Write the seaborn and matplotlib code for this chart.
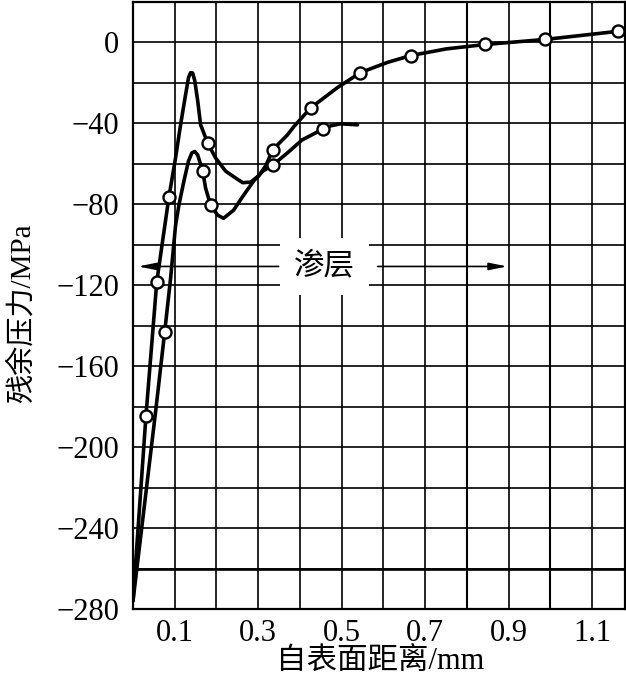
import matplotlib
matplotlib.use('Agg')
import matplotlib.pyplot as plt
import numpy as np
import pandas as pd
import seaborn as sns

# curve traces (depth in mm, stress in MPa)
curve_a_x = [0.0, 0.031, 0.057, 0.086, 0.102, 0.114, 0.126, 0.133, 0.138, 0.143, 0.148,
             0.155, 0.162, 0.179, 0.198, 0.222, 0.246, 0.263, 0.282, 0.301, 0.318, 0.335, 0.370,
             0.385, 0.426, 0.490, 0.545, 0.609, 0.665, 0.750, 0.844, 0.988, 1.162]
curve_a_y = [-276, -184.7, -118.2, -76.5, -57, -40.7, -25.8, -17.4, -14.9, -15.1, -18.9,
             -28.8, -40.7, -49.7, -57.1, -63.6, -67, -69.3, -69, -66, -61, -53, -45.7,
             -41.7, -32.3, -22.3, -14.9, -9.9, -6.5, -3.2, -1, 1.5, 5.5]

curve_b_x = [0.0, 0.055, 0.076, 0.090, 0.102, 0.110, 0.122, 0.133, 0.141, 0.148, 0.155, 0.167,
             0.174, 0.186, 0.203, 0.217, 0.241, 0.265, 0.289, 0.311, 0.335, 0.370, 0.405, 0.456,
             0.474, 0.497, 0.538]
curve_b_y = [-276, -181, -143, -116.7, -90.4, -80.4, -68.5, -58.6, -54.6, -53.9, -55.6, -63.6,
             -72, -80.4, -85.4, -86.9, -82.9, -75.5, -68.5, -63.6, -60.6, -54.6, -48.2, -42.7,
             -41.2, -40.2, -40.7]

# measured points (circles)
pts_a_x = [0.031, 0.057, 0.086, 0.179, 0.335, 0.426, 0.545, 0.665, 0.844, 0.988, 1.162]
pts_a_y = [-184.7, -118.2, -76.5, -49.7, -53, -32.3, -14.9, -6.5, -1, 1.5, 5.5]
pts_b_x = [0.076, 0.167, 0.186, 0.335, 0.456]
pts_b_y = [-143, -63.6, -80.4, -60.6, -42.7]

x_ticks = [0.1, 0.3, 0.5, 0.7, 0.9, 1.1]
x_grid = [0.1, 0.2, 0.3, 0.4, 0.5, 0.6, 0.7, 0.8, 0.9, 1.0, 1.1]
y_ticks = [0, -40, -80, -120, -160, -200, -240, -280]
y_grid = [0, -20, -40, -60, -80, -100, -120, -140, -160, -180, -200, -220, -240, -260]

layer_label = '渗层'
layer_y = -110.7
layer_left = [0.349, 0.012]
layer_right = [0.586, 0.897]
layer_text_x = 0.459

sns.set_theme(style='white')
plt.rcParams['font.family'] = ['Liberation Serif', 'Noto Sans CJK SC']
plt.rcParams['axes.unicode_minus'] = True

fig = plt.figure(figsize=(6.26, 6.77), dpi=100)
ax = fig.add_axes([133 / 626, 1 - 609 / 677, 492 / 626, 607 / 677])

df_a = pd.DataFrame({'x': curve_a_x, 'y': curve_a_y})
df_b = pd.DataFrame({'x': curve_b_x, 'y': curve_b_y})
line_kw = dict(sort=False, estimator=None, color='black', lw=2.6, ax=ax, zorder=3)
sns.lineplot(data=df_a, x='x', y='y', **line_kw)
sns.lineplot(data=df_b, x='x', y='y', **line_kw)
dot_kw = dict(marker='o', s=75, facecolor='white', edgecolor='black', linewidth=1.7, ax=ax, zorder=4)
sns.scatterplot(x=pts_a_x, y=pts_a_y, **dot_kw)
sns.scatterplot(x=pts_b_x, y=pts_b_y, **dot_kw)
for ln in ax.lines:
    ln.set_solid_joinstyle('round')
    ln.set_solid_capstyle('round')

ax.set_xlim(0, 1.179)
ax.set_ylim(-280, 20)
ax.set_xticks(x_ticks)
ax.set_xticklabels([f'{v:.1f}' for v in x_ticks])
ax.set_xticks(x_grid, minor=True)
ax.set_yticks(y_ticks)
ax.set_yticklabels([f'{v}'.replace('-', '\u2212') for v in y_ticks])
ax.set_yticks(y_grid, minor=True)
ax.grid(True, which='both', color='black', lw=1.2)
ax.axhline(-260, color='black', lw=1.9, zorder=1)
ax.axvline(0.8, color='black', lw=1.5, zorder=1)
ax.axvline(1.0, color='black', lw=1.5, zorder=1)
ax.tick_params(axis='both', which='both', length=0, labelsize=22, colors='black')
ax.tick_params(axis='y', pad=10)
ax.tick_params(axis='x', pad=7)
for s in ax.spines.values():
    s.set_color('black')
    s.set_linewidth(1.6)

ax.set_xlabel('自表面距离/mm', fontsize=22, color='black')
ax.set_ylabel('残余压力/MPa', fontsize=21, color='black')
ax.xaxis.set_label_coords(0.502, -0.062)
ax.yaxis.set_label_coords(-0.197, 0.487)

# carburised layer annotation
arrow = dict(arrowstyle='-|>,head_length=0.9,head_width=0.18', color='black', lw=1.2, shrinkA=0, shrinkB=0)
ax.annotate('', xy=(layer_left[1], layer_y), xytext=(layer_left[0], layer_y), arrowprops=arrow, zorder=5)
ax.annotate('', xy=(layer_right[1], layer_y), xytext=(layer_right[0], layer_y), arrowprops=arrow, zorder=5)
ax.text(layer_text_x, layer_y, layer_label, fontsize=22, ha='center', va='center', color='black',
        bbox=dict(boxstyle='square,pad=0.45', fc='white', ec='none'), zorder=5)

fig.savefig('out.png', dpi=100)
